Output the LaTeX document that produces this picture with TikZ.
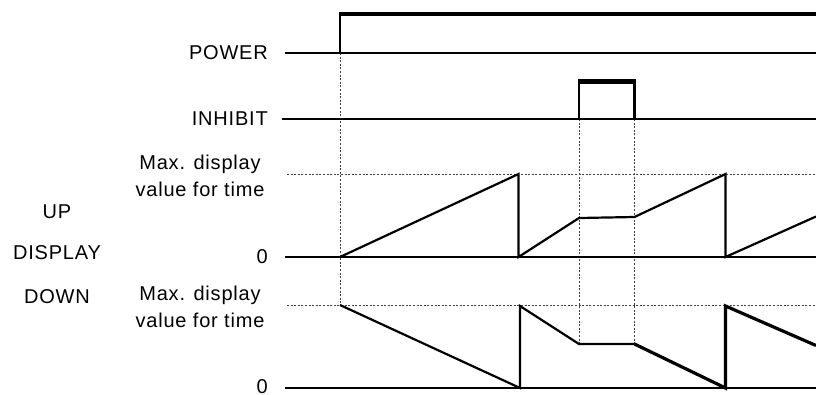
\documentclass[tikz,border=0pt]{standalone}
\usepackage{fontspec}
\setmainfont{Liberation Sans}[LetterSpace=4]
\usepackage{tikz}

\begin{document}
\begin{tikzpicture}[x=1pt,y=-1pt,
    lbl/.style={inner sep=0pt,font=\fontsize{20}{27}\selectfont},
    base/.style={line width=1.6pt},
    sig/.style={line width=2.2pt,line join=miter},
    heavy/.style={line width=3.2pt,line join=miter},
    guide/.style={line width=1pt,black!75,dash pattern=on 2pt off 1.6pt}]
  \useasboundingbox (0,0) rectangle (816,394);
  % labels
  \node[lbl,anchor=east] (power) at (268,53) {POWER};
  \node[lbl,anchor=east] (inhibit) at (268,119) {INHIBIT};
  \node[lbl,align=center] (upmax) at (200,176) {Max. display\\value for time};
  \node[lbl,anchor=east] (upzero) at (268,257) {0};
  \node[lbl] (up) at (57,212) {UP};
  \node[lbl] (display) at (57,253) {DISPLAY};
  \node[lbl] (down) at (57,297) {DOWN};
  \node[lbl,align=center] (downmax) at (200,307) {Max. display\\value for time};
  \node[lbl,anchor=east] (downzero) at (268,387) {0};
  % guides
  \draw[guide] (287,174) -- (816,174);
  \draw[guide] (287,305) -- (816,305);
  \draw[guide] (340,53) -- (340,305);
  \draw[guide] (579,119) -- (579,344);
  \draw[guide] (634.5,119) -- (634.5,344);
  % power
  \draw[base] (285,53) -- (816,53);
  \draw[sig] (340,53) -- (340,14);
  \draw[line width=3.5pt] (339,14) -- (816,14);
  % inhibit
  \draw[base] (282,119) -- (816,119);
  \draw[sig] (579,119) -- (579,81.5) -- (634.5,81.5) -- (634.5,119);
  \draw[line width=5pt] (578,81.5) -- (635.5,81.5);
  % up display
  \draw[base] (285,257) -- (816,257);
  \draw[sig] (340,257) -- (518.5,174) -- (518.5,257) -- (579,218)
    -- (634.5,217) -- (725.5,174) -- (725.5,257) -- (816,216.5);
  % down display
  \draw[base] (285,388) -- (816,388);
  \draw[sig] (340,305) -- (520,388) -- (520,306) -- (579,344) -- (634.5,344);
  \draw[heavy] (634.5,344) -- (725.5,388) -- (725.5,306) -- (816,345.5);
\end{tikzpicture}
\end{document}
